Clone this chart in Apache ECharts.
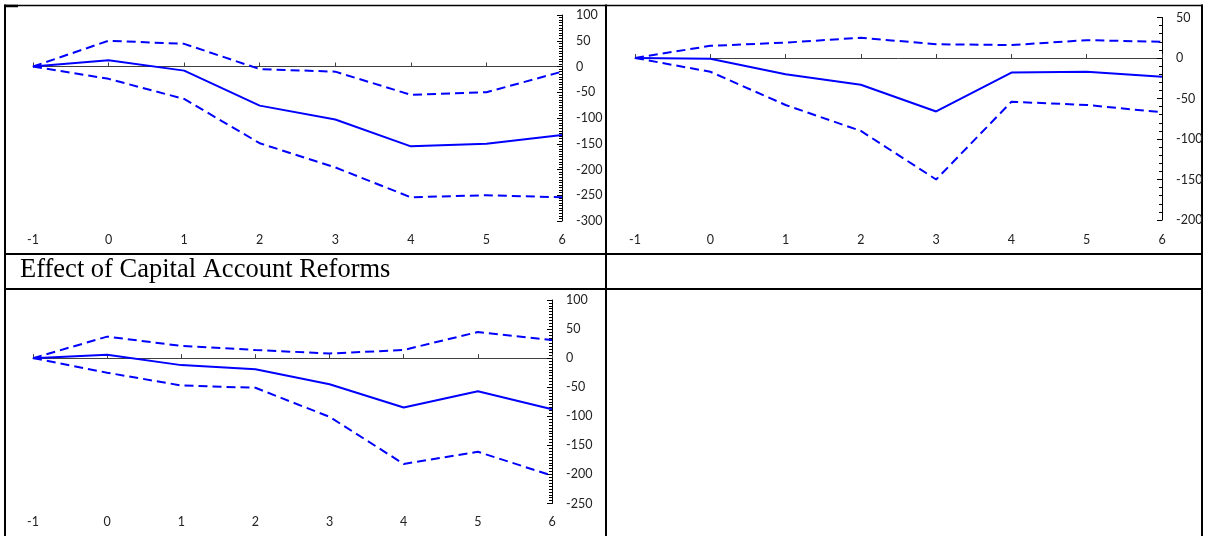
<!DOCTYPE html>
<html>
<head>
<meta charset="utf-8">
<script src="https://cdn.jsdelivr.net/npm/echarts@6/dist/echarts.min.js"></script>
<style>
html, body { margin: 0; padding: 0; background: #fff; }
#main { width: 1207px; height: 536px; }
</style>
</head>
<body>
<div id="main"></div>
<script>
var periods = ['-1', '0', '1', '2', '3', '4', '5', '6']

// top left panel
var effect1 = [0, 12, -8, -76, -103, -155, -150, -133]
var upper1 = [0, 50, 44, -5, -10, -55, -50, -10]
var lower1 = [0, -24, -63, -149, -196, -254, -250, -254]

// top right panel
var effect2 = [0, -1, -20, -33, -66, -18, -17, -23]
var upper2 = [0, 15, 19, 25, 17, 16, 22, 20]
var lower2 = [0, -17, -58, -90, -150, -54, -58, -67]

// bottom left panel
var effect3 = [0, 6, -12, -19, -45, -85, -57, -88]
var upper3 = [0, 37, 21, 14, 8, 14, 45, 31]
var lower3 = [0, -25, -47, -51, -101, -182, -161, -202]

var yMin = [-300, -200, -250]
var yMax = [100, 50, 100]
var yMinorSplit = [10, 5, 10]

var panelTitle = 'Effect of Capital Account Reforms'

var blue = '#0000ff'
var axisFont = 'Lato'
var labelColor = '#222222'

var grids = [
    { left: 33, top: 15, width: 529, height: 206 },
    { left: 635, top: 17.5, width: 527, height: 202.5 },
    { left: 33, top: 300, width: 519, height: 203.5 }
]
var xLabelMargin = [12.5, 13, 12]

var panels = [
    [effect1, upper1, lower1],
    [effect2, upper2, lower2],
    [effect3, upper3, lower3]
]

var xAxes = []
var yAxes = []
var series = []

grids.forEach(function (g, i) {
    g.outerBoundsMode = 'none'
    // the zero line with its small upward ticks
    xAxes.push({
        gridIndex: i,
        type: 'category',
        data: periods,
        boundaryGap: false,
        position: 'bottom',
        axisLine: { onZero: true, lineStyle: { color: '#404040', width: 1 } },
        axisTick: { inside: true, length: 4, lineStyle: { color: '#404040' } },
        axisLabel: { show: false },
        splitLine: { show: false }
    })
    // period labels sit at the bottom of the cell
    xAxes.push({
        gridIndex: i,
        type: 'category',
        data: periods,
        boundaryGap: false,
        position: 'bottom',
        axisLine: { show: false, onZero: false },
        axisTick: { show: false },
        axisLabel: { margin: xLabelMargin[i], color: labelColor, fontFamily: axisFont, fontSize: 12.5 },
        splitLine: { show: false }
    })
    yAxes.push({
        gridIndex: i,
        type: 'value',
        position: 'right',
        min: yMin[i],
        max: yMax[i],
        interval: 50,
        axisLine: { show: true, onZero: false, lineStyle: { color: '#000', width: 1 } },
        axisTick: { show: true, inside: true, length: 5, lineStyle: { color: '#000' } },
        minorTick: { show: true, splitNumber: yMinorSplit[i], length: 3, lineStyle: { color: '#000' } },
        splitLine: { show: false },
        axisLabel: { margin: 14, color: labelColor, fontFamily: axisFont, fontSize: 12.5 }
    })
    panels[i].forEach(function (d, k) {
        series.push({
            type: 'line',
            xAxisIndex: i * 2,
            yAxisIndex: i,
            data: d,
            symbol: 'none',
            silent: true,
            z: k === 0 ? 3 : 2,
            lineStyle: { color: blue, width: 2, type: k === 0 ? 'solid' : [9, 5] }
        })
    })
})

function rule(x1, y1, x2, y2, w) {
    return {
        type: 'line',
        silent: true,
        shape: { x1: x1, y1: y1, x2: x2, y2: y2 },
        style: { stroke: '#000', lineWidth: w || 2 }
    }
}

var chart = echarts.init(document.getElementById('main'), null, { renderer: 'canvas' })
chart.setOption({
    animation: false,
    backgroundColor: '#fff',
    title: {
        text: panelTitle,
        left: 20,
        top: 257,
        padding: 0,
        textStyle: { fontFamily: 'Liberation Serif', fontSize: 26.5, fontWeight: 'normal', color: '#000' }
    },
    grid: grids,
    xAxis: xAxes,
    yAxis: yAxes,
    series: series,
    graphic: [
        rule(4, 5.5, 1203, 5.5, 1.5),
        rule(5, 6, 18, 6, 2.5),
        rule(5, 4.5, 5, 536),
        rule(606, 4.5, 606, 536),
        rule(1202, 4.5, 1202, 536),
        rule(4, 254, 1203, 254),
        rule(4, 289, 1203, 289)
    ]
})
</script>
</body>
</html>
